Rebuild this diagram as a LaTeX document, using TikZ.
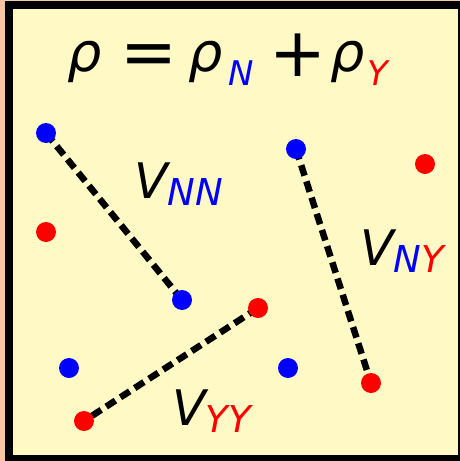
\documentclass[tikz,border=0pt]{standalone}
\usepackage{fontspec}
\setmainfont{DejaVu Sans}
\definecolor{peach}{RGB}{247,198,162}
\definecolor{paper}{RGB}{255,249,197}
\definecolor{nblue}{RGB}{0,0,255}
\definecolor{yred}{RGB}{255,0,0}
\pgfdeclarelayer{back}
\pgfdeclarelayer{mid}
\pgfsetlayers{back,mid,main}
\tikzset{
  dotn/.style={circle, fill=nblue, minimum size=20pt, inner sep=0pt},
  doty/.style={circle, fill=yred, minimum size=20pt, inner sep=0pt},
  dashline/.style={line width=6.5pt, dash pattern=on 11pt off 6pt},
  lab/.style={anchor=base west, inner sep=0pt, font=\fontsize{49}{56}\selectfont\itshape},
  trho/.style={anchor=base west, inner sep=0pt, font=\fontsize{54}{60}\selectfont\itshape},
  op/.style={anchor=base west, inner sep=0pt, font=\fontsize{68}{76}\selectfont},
  tsub/.style={anchor=base west, inner sep=0pt, font=\fontsize{34}{38}\selectfont\itshape},
}
\newcommand{\subN}{\color{nblue}N}
\newcommand{\subY}{\color{yred}Y}
\newcommand{\sub}[1]{\raisebox{-7.5pt}{\fontsize{37}{40}\selectfont\itshape #1}}
\begin{document}
\begin{tikzpicture}[x=1pt,y=-1pt]
\begin{pgfonlayer}{back}
\fill[peach] (0,0) rectangle (460,461);
\fill[black] (5,1) rectangle (460,461);
\fill[paper] (13,9) rectangle (458,455);
\end{pgfonlayer}
\useasboundingbox (0,0) rectangle (460,461);
% dots
\node[dotn] (n1) at (46,133) {};
\node[dotn] (n2) at (296,149) {};
\node[dotn] (n3) at (182,300) {};
\node[dotn] (n4) at (69,368) {};
\node[dotn] (n5) at (288,368) {};
\node[doty] (y1) at (425,164) {};
\node[doty] (y2) at (46,232) {};
\node[doty] (y3) at (258,308) {};
\node[doty] (y4) at (371,383) {};
\node[doty] (y5) at (84,421) {};
% interaction lines
\begin{pgfonlayer}{mid}
\draw[dashline] (n1.center) -- (n3.center);
\draw[dashline] (n2.center) -- (y4.center);
\draw[dashline] (y3.center) -- (y5.center);
\end{pgfonlayer}
% title
\node[trho] (rho1) at (67,71) {ρ};
\node[op] (eq) at (120,75) {=};
\node[trho] (rho2) at (188,71) {ρ};
\node[tsub] (sn) at (228,85) {\subN};
\node[op] (plus) at (269,76) {+};
\node[trho] (rho3) at (330,71) {ρ};
\node[tsub] (sy) at (367,85) {\subY};
% potential labels
\node[lab] (vnn) at (134,198) {V\sub{\subN\subN}};
\node[lab] (vny) at (360,265) {V\sub{\subN\subY}};
\node[lab] (vyy) at (172,425) {V\sub{\subY\subY}};
\end{tikzpicture}
\end{document}
